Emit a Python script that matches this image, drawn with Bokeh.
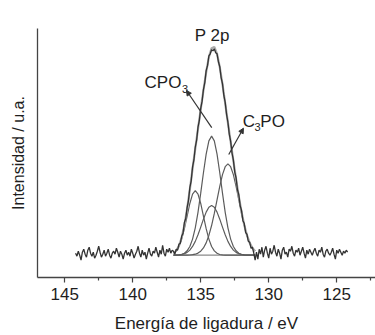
import numpy as np
from bokeh.plotting import figure
from bokeh.models import Range1d, Arrow, NormalHead, Label, FixedTicker
from bokeh.embed import file_html
from bokeh.resources import INLINE

# ---------------- data ----------------
# measured spectrum, binding energy grid 144.2 -> 124.2 eV, 0.1 eV step
spec_start = 144.2
spec_step = 0.1
noise_left = [
    2, -1, 4, 0, -5, 3, 6, 1, -2, 5,
    8, 2, -1, 3, -3, 0, 4, 9, 3, -2,
    1, 5, -1, 2, 6, 0, -3, 2, 4, 1,
    7, 3, -2, 4, 1, -4, 2, 5, 0, 3,
    -1, 6, 2, -3, 1, 4, 9, 2, -2, 5,
    0, 3, -4, 2, 7, 1, -1, 4, 2, 8,
    3, -2, 5, 1, 10, 2, -1, 6, 3, 7,
    2, 5]
peak_data = [
    4, 1, 6, 5, 11, 12, 19, 22, 33, 37,
    48, 55, 68, 75, 89, 96, 109, 116, 129, 136,
    148, 155, 167, 174, 186, 191, 201, 203, 207, 206,
    208, 204, 203, 195, 190, 179, 173, 161, 154, 142,
    134, 122, 115, 103, 96, 84, 78, 66, 61, 50,
    45, 35, 32, 23, 21, 14, 13, 7, 8, 2,
    -5]
noise_right = [
    3, -4, 6, 1, 8, -2, 5, 9, 2, -3,
    7, 1, 4, 10, 3, -1, 6, 2, -4, 5,
    8, 1, 3, -2, 6, 4, 9, 2, -1, 5,
    3, 7, 0, 4, 8, 2, -3, 5, 1, 6,
    3, 0, 4, 7, 2, -1, 5, 3, 8, 1,
    -2, 4, 6, 2, 0, 3, 7, 1, -4, 5,
    2, 6, 3, 0, 4, 2, 5, 3]

# fitted components, grid 137.0 -> 131.0 eV, 0.2 eV step
fit_start = 137.0
fit_step = 0.2
comp_a = [1.9, 4.3, 8.8, 16.2, 26.7, 39.4, 52.1, 61.5, 65.0, 61.5,
          52.1, 39.4, 26.7, 16.2, 8.8, 4.3, 1.9, 0.7, 0.3, 0.1,
          0, 0, 0, 0, 0, 0, 0, 0, 0, 0, 0]
comp_b = [0.0, 0.1, 0.3, 0.9, 2.0, 4.4, 8.8, 16.2, 27.6, 43.2,
          62.5, 83.1, 101.9, 115.2, 120.0, 115.2, 101.9, 83.1, 62.5, 43.2,
          27.6, 16.2, 8.8, 4.4, 2.0, 0.9, 0.3, 0.1, 0.0, 0.0, 0.0]
comp_c = [0.0, 0.1, 0.3, 0.7, 1.4, 2.8, 5.1, 8.8, 13.9, 20.6,
          28.3, 36.3, 43.4, 48.3, 50.0, 48.3, 43.4, 36.3, 28.3, 20.6,
          13.9, 8.8, 5.1, 2.8, 1.4, 0.7, 0.3, 0.1, 0.0, 0.0, 0.0]
comp_d = [0.0, 0.0, 0.0, 0.0, 0.0, 0.1, 0.2, 0.5, 1.0, 2.1,
          4.0, 7.3, 12.4, 19.9, 29.9, 42.1, 55.8, 69.4, 81.2, 89.2,
          92.0, 89.2, 81.2, 69.4, 55.8, 42.1, 29.9, 19.9, 12.4, 7.3,
          4.0]
envelope = [1.9, 4.5, 9.4, 17.8, 30.1, 46.7, 66.2, 87.0, 107.5, 127.4,
            146.9, 166.1, 184.4, 199.6, 208.7, 209.9, 203.0, 189.5, 172.3, 153.1,
            133.5, 114.2, 95.1, 76.6, 59.2, 43.7, 30.5, 20.1, 12.4, 7.3,
            4.0]

x_major_ticks = [145, 140, 135, 130, 125]
x_minor_ticks = [142.5, 137.5, 132.5, 127.5, 122.5]

# ---------------- build ----------------
spectrum = np.array(noise_left + peak_data + noise_right, dtype=float)
energy = spec_start - spec_step * np.arange(len(spectrum))
fit_e = fit_start - fit_step * np.arange(len(envelope))

FONT = "Liberation Sans"
TXT = "#1e1e1e"
AX = "#444444"

p = figure(width=375, height=335, output_backend="svg", toolbar_location=None,
           x_range=Range1d(147.0, 122.15), y_range=Range1d(-22.5, 228.5),
           min_border_left=37, min_border_right=0, min_border_top=28,
           min_border_bottom=56)
p.outline_line_color = None
p.xgrid.grid_line_color = None
p.ygrid.grid_line_color = None
p.background_fill_color = "white"

# x axis
p.xaxis.ticker = FixedTicker(ticks=x_major_ticks, minor_ticks=x_minor_ticks)
p.xaxis.axis_line_color = AX
p.xaxis.axis_line_width = 1.3
p.xaxis.major_tick_line_color = AX
p.xaxis.minor_tick_line_color = AX
p.xaxis.major_tick_line_width = 1.2
p.xaxis.minor_tick_line_width = 1.2
p.xaxis.major_tick_in = 0
p.xaxis.major_tick_out = 5
p.xaxis.minor_tick_in = 0
p.xaxis.minor_tick_out = 3
p.xaxis.major_label_text_font = FONT
p.xaxis.major_label_text_font_size = "17px"
p.xaxis.major_label_text_color = TXT
p.xaxis.major_label_standoff = 5
p.xaxis.axis_label = "Energía de ligadura / eV"
p.xaxis.axis_label_text_font = FONT
p.xaxis.axis_label_text_font_size = "17px"
p.xaxis.axis_label_text_font_style = "normal"
p.xaxis.axis_label_text_color = TXT
p.xaxis.axis_label_standoff = 11

# y axis
p.yaxis.ticker = FixedTicker(ticks=[])
p.yaxis.axis_line_color = AX
p.yaxis.axis_line_width = 1.3
p.yaxis.major_tick_in = 0
p.yaxis.major_tick_out = 0
p.yaxis.minor_tick_in = 0
p.yaxis.minor_tick_out = 0
p.yaxis.major_label_standoff = 0
p.yaxis.axis_label = "Intensidad / u.a."
p.yaxis.axis_label_text_font = FONT
p.yaxis.axis_label_text_font_size = "16px"
p.yaxis.axis_label_text_font_style = "normal"
p.yaxis.axis_label_text_color = TXT
p.yaxis.axis_label_standoff = 11

# fit background line
p.line([fit_e[0], fit_e[-1]], [0, 0], line_color="#8a8a8a", line_width=1.2)
# components
for comp in (comp_a, comp_b, comp_c, comp_d):
    p.line(fit_e, comp, line_color="#5c5c5c", line_width=1.2)
# envelope
p.line(fit_e, envelope, line_color="#ababab", line_width=2.2)
# measured spectrum
p.line(energy, spectrum, line_color="#333333", line_width=1.3)

# annotations
def lab(x, y, text, size, align="left"):
    p.add_layout(Label(x=x, y=y, text=text, text_font=FONT, text_font_size=size,
                       text_color=TXT, text_align=align, text_baseline="alphabetic"))

lab(134.15, 221.5, "P 2p", "17px", "center")
lab(136.42, 174.5, "CPO", "17px", "right")
lab(136.38, 167.5, "3", "11px")
lab(131.91, 134.5, "C", "17px")
lab(131.05, 129.0, "3", "11px")
lab(130.62, 134.5, "PO", "17px")

p.add_layout(Arrow(end=NormalHead(size=5, fill_color="#333333", line_color="#333333"),
                   x_start=134.19, y_start=128.5, x_end=136.05, y_end=166.0,
                   line_color="#333333", line_width=1.2))
p.add_layout(Arrow(end=NormalHead(size=5, fill_color="#333333", line_color="#333333"),
                   x_start=132.94, y_start=101.5, x_end=131.86, y_end=128.0,
                   line_color="#333333", line_width=1.2))

open("out.html", "w").write(file_html(p, INLINE))
